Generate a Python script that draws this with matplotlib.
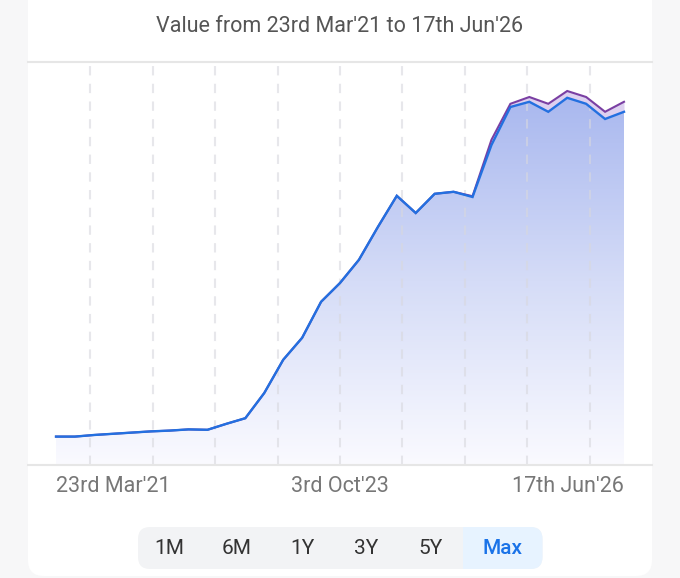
import numpy as np
import matplotlib
matplotlib.use("Agg")
import matplotlib.pyplot as plt
from matplotlib.patches import FancyBboxPatch, Rectangle
from matplotlib.colors import LinearSegmentedColormap

plt.rcParams['font.family'] = ['Roboto', 'DejaVu Sans']

# ---- data (arbitrary units) ----
title = "Value from 23rd Mar'21 to 17th Jun'26"
tick_pos = [0, 15, 30]
tick_labels = ["23rd Mar'21", "3rd Oct'23", "17th Jun'26"]
current = [71, 71, 75, 78, 81, 84, 86, 89, 88, 103, 117, 180, 263, 318, 408,
           455, 513, 595, 673, 630, 678, 683, 670, 800, 895, 908, 883, 918,
           903, 865, 883]
invested = [71, 71, 75, 78, 81, 84, 86, 89, 88, 103, 117, 180, 263, 318, 408,
            455, 513, 595, 673, 630, 678, 683, 672, 813, 903, 920, 903, 935,
            920, 883, 908]
buttons = ["1M", "6M", "1Y", "3Y", "5Y", "Max"]
button_x = [169, 237, 302, 366, 431, 503]

x = np.arange(len(current))
cur = np.array(current, float)
inv = np.array(invested, float)

fig = plt.figure(figsize=(6.8, 5.78), dpi=100, facecolor="#f7f7f8")

# background layer in pixel coords
bg = fig.add_axes([0, 0, 1, 1])
bg.set_xlim(0, 680); bg.set_ylim(578, 0); bg.axis("off")
bg.add_patch(FancyBboxPatch((28, -40), 624, 616, boxstyle="round,pad=0,rounding_size=16",
                            fc="white", ec="none"))
bg.text(340, 27, title, ha="center", va="center", fontsize=15.5, color="#555555")

# period selector
bg.add_patch(FancyBboxPatch((138, 527), 404.5, 42, boxstyle="round,pad=0,rounding_size=12",
                            fc="#f2f3f5", ec="none"))
bg.add_patch(FancyBboxPatch((463, 527), 79.5, 42, boxstyle="round,pad=0,rounding_size=12",
                            fc="#e7f3ff", ec="none"))
bg.add_patch(Rectangle((463, 527), 20, 42, fc="#e7f3ff", ec="none"))
for lab, bx in zip(buttons, button_x):
    sel = lab == "Max"
    bg.text(bx, 548, lab, ha="center", va="center", fontsize=15,
            color="#1a73e8" if sel else "#333333", fontweight="medium" if sel else "normal")

# chart
ax = fig.add_axes([28/680, (578-465)/578, 624/680, 403/578])
ax.set_facecolor("none")
step = (624 - 56) / 30
ax.set_xlim(-28/step, 30 + 28/step)
ax.set_ylim(0, 1007.5)

# dashed vertical grid, faintly visible through the fill too
for k in range(1, 10):
    ax.plot([k/10, k/10], [0, 1], transform=ax.transAxes, color="#d8d8de",
            alpha=0.6, lw=1.5, ls=(0, (4.5, 4)), zorder=1.5)

# gradient under the blue line
cmap = LinearSegmentedColormap.from_list("g", ["#fafaff", "#d5dcf7", "#a9b8ef"])
grad = np.linspace(0, 1, 256).reshape(-1, 1)
poly = ax.fill_between(x, 0, cur, color="none", lw=0)
img = ax.imshow(grad, cmap=cmap, aspect="auto", origin="lower",
                extent=[x[0], x[-1], 0, cur.max()], zorder=1)
img.set_clip_path(poly.get_paths()[0], transform=ax.transData)

ax.fill_between(x, cur, inv, color="#ddd0f0", lw=0, zorder=2)
ax.plot(x, inv, color="#7a3fa3", lw=1.5, zorder=3, solid_joinstyle="miter")
ax.plot(x, cur, color="#2370e0", lw=1.7, zorder=4, solid_joinstyle="miter")

for s in ["left", "right"]:
    ax.spines[s].set_visible(False)
for s in ["top", "bottom"]:
    ax.spines[s].set_color("#e6e6e6")
    ax.spines[s].set_linewidth(1.5)
ax.set_yticks([])
ax.set_xticks(tick_pos)
ax.set_xticklabels(tick_labels, fontsize=15.5, color="#777777")
ax.tick_params(axis="x", length=0, pad=8)
lbls = ax.get_xticklabels()
lbls[0].set_ha("left"); lbls[-1].set_ha("right")

fig.savefig("out.png", dpi=100, facecolor=fig.get_facecolor())
